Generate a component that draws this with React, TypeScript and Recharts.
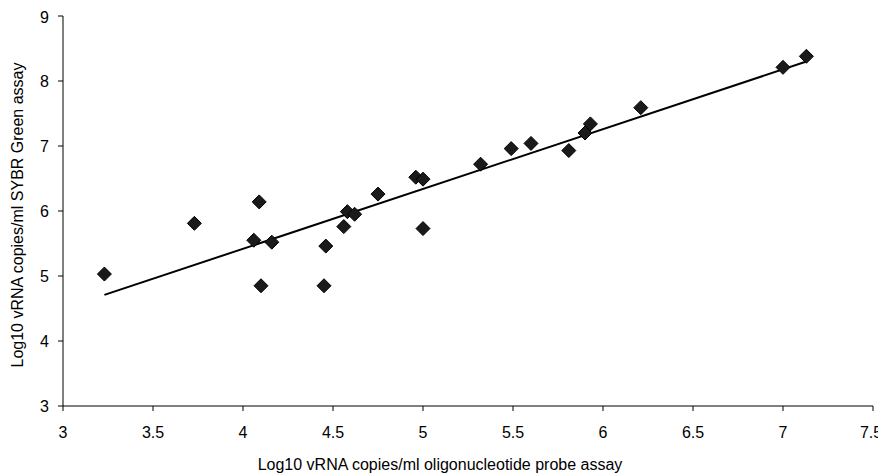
import { ScatterChart, Scatter, XAxis, YAxis, Label } from "recharts";

const probeAssay = [
  3.23, 3.73, 4.06, 4.09, 4.1, 4.16, 4.46, 4.45, 4.56, 4.58, 4.62, 4.75,
  4.96, 5.0, 5.0, 5.32, 5.49, 5.6, 5.81, 5.9, 5.93, 6.21, 7.0, 7.13,
];
const sybrAssay = [
  5.03, 5.81, 5.55, 6.14, 4.85, 5.52, 5.46, 4.85, 5.76, 5.99, 5.95, 6.26,
  6.52, 6.49, 5.73, 6.72, 6.96, 7.04, 6.93, 7.2, 7.34, 7.59, 8.21, 8.38,
];
const trendX = [3.23, 7.13];
const trendY = [4.71, 8.3];
const xTicks = [3, 3.5, 4, 4.5, 5, 5.5, 6, 6.5, 7, 7.5];
const yTicks = [3, 4, 5, 6, 7, 8, 9];

const points = probeAssay.map((x, i) => ({ x, y: sybrAssay[i] }));
const trend = trendX.map((x, i) => ({ x, y: trendY[i] }));

const Diamond = (props: any) => {
  const { cx, cy } = props;
  const r = 7;
  return (
    <polygon
      points={`${cx},${cy - r} ${cx + r},${cy} ${cx},${cy + r} ${cx - r},${cy}`}
      fill="#1a1a1a"
      stroke="#000"
      strokeWidth={1}
    />
  );
};

// last label sits a bit left so it isn't clipped at the page edge
const XTick = (props: any) => {
  const { x, y, payload, index } = props;
  const shift = index === xTicks.length - 1 ? -2 : 0;
  return (
    <text x={x + shift} y={y} dy="0.71em" textAnchor="middle" fontSize={16} fill="#000">
      {payload.value}
    </text>
  );
};

const font = "'Liberation Sans', Arial, sans-serif";

export default function App() {
  return (
    <ScatterChart
      width={878}
      height={468}
      margin={{ top: 8, right: 13, bottom: 0, left: 0 }}
      style={{ fontFamily: font }}
    >
      <XAxis
        type="number"
        dataKey="x"
        domain={[3, 7.5]}
        ticks={xTicks}
        allowDataOverflow
        stroke="#000"
        tick={<XTick />}
        tickSize={5}
        tickMargin={16}
        height={70}
      >
        <Label
          content={({ viewBox }: any) => (
            <text
              x={viewBox.x + viewBox.width / 2 - 28}
              y={viewBox.y + 64}
              textAnchor="middle"
              fontSize={16}
              fill="#000"
            >
              Log10 vRNA copies/ml oligonucleotide probe assay
            </text>
          )}
        />
      </XAxis>
      <YAxis
        type="number"
        dataKey="y"
        domain={[3, 9]}
        ticks={yTicks}
        allowDataOverflow
        stroke="#000"
        tick={{ fill: "#000", fontSize: 16 }}
        tickSize={5}
        tickMargin={9}
        width={55}
      >
        <Label
          content={({ viewBox }: any) => {
            const x = 15;
            const y = viewBox.y + viewBox.height / 2 + 4;
            return (
              <text
                x={x}
                y={y}
                transform={`rotate(-90, ${x}, ${y})`}
                textAnchor="middle"
                fontSize={16}
                fill="#000"
              >
                Log10 vRNA copies/ml SYBR Green assay
              </text>
            );
          }}
        />
      </YAxis>
      <Scatter
        data={trend}
        line={{ stroke: "#000", strokeWidth: 2 }}
        shape={() => <g />}
        isAnimationActive={false}
      />
      <Scatter data={points} shape={Diamond} isAnimationActive={false} />
    </ScatterChart>
  );
}
